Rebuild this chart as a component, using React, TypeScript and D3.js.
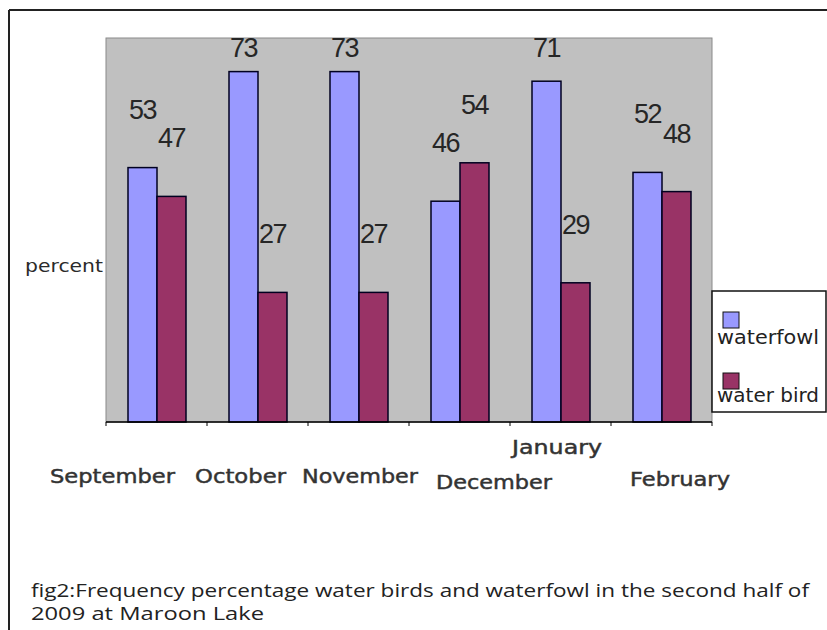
import React from "react";
import * as d3 from "d3";

const months = ["September", "October", "November", "December", "January", "February"];
const seriesNames = ["waterfowl", "water bird"];
const waterfowl = [53, 73, 73, 46, 71, 52];
const waterBird = [47, 27, 27, 54, 29, 48];
const yAxisLabel = "percent";
const captionLines = [
  "fig2:Frequency percentage water birds and waterfowl in the second half of",
  "2009 at Maroon Lake",
];

// layout (not data)
const W = 827, H = 630;
const plot = { left: 106, right: 712, top: 38, bottom: 422 };
const monthLabelLayout = [
  { dx: -44, y: 483, w: 125 },
  { dx: -17, y: 483, w: 91 },
  { dx: 1.5, y: 483, w: 116 },
  { dx: 34.5, y: 489, w: 116 },
  { dx: -3.5, y: 454, w: 90 },
  { dx: 18.5, y: 486, w: 100 },
];
const colors = ["#9999FF", "#993366"];

export default function App() {
  const x = d3.scaleBand<string>().domain(months).range([plot.left, plot.right]).padding(0);
  const xs = d3.scaleBand<string>().domain(seriesNames).range([22, 80]).padding(0);
  const y = d3.scaleLinear().domain([0, 80]).range([plot.bottom, plot.top]);
  const series = [waterfowl, waterBird];
  const bw = x.bandwidth();
  const boundaries = d3.range(months.length + 1).map((i) => plot.left + i * bw);

  return (
    <svg width={W} height={H} style={{ position: "absolute", left: 0, top: 0, background: "#fff" }}>
      <rect x={0} y={0} width={W} height={H} fill="#fff" />
      {/* outer frame */}
      <line x1={9} x2={W} y1={10} y2={10} stroke="#222" strokeWidth={2} />
      <line x1={9} x2={9} y1={10} y2={H} stroke="#222" strokeWidth={2} />
      {/* plot area */}
      <rect x={plot.left} y={plot.top} width={plot.right - plot.left} height={plot.bottom - plot.top}
        fill="#C0C0C0" stroke="#8a8a8a" strokeWidth={1} />
      {/* bars */}
      {series.map((vals, si) =>
        vals.map((v, i) => (
          <rect key={`b${si}-${i}`}
            x={(x(months[i]) as number) + (xs(seriesNames[si]) as number)}
            y={y(v)} width={xs.bandwidth()} height={plot.bottom - y(v)}
            fill={colors[si]} stroke="#000020" strokeWidth={1.5} />
        ))
      )}
      {/* value labels */}
      {series.map((vals, si) =>
        vals.map((v, i) => {
          const cx = (x(months[i]) as number) + (xs(seriesNames[si]) as number) + xs.bandwidth() / 2;
          const cy = Math.max(y(v) - 59, plot.top + 9);
          return (
            <text key={`l${si}-${i}`} x={cx} y={cy + 10} textAnchor="middle"
              fontFamily="Liberation Sans, Arial, sans-serif" fontSize={27} letterSpacing={-1.5}
              fill="#262626">{v}</text>
          );
        })
      )}
      {/* axis */}
      <line x1={plot.left} x2={plot.right} y1={plot.bottom} y2={plot.bottom} stroke="#000" strokeWidth={1.5} />
      {boundaries.map((bx, i) => (
        <line key={`t${i}`} x1={bx} x2={bx} y1={plot.bottom} y2={plot.bottom + 4} stroke="#000" strokeWidth={1} />
      ))}
      {/* month labels */}
      {months.map((m, i) => {
        const L = monthLabelLayout[i];
        const cx = (x(m) as number) + bw / 2 + L.dx;
        return (
          <text key={`m${i}`} x={cx - L.w / 2} y={L.y} textLength={L.w} lengthAdjust="spacingAndGlyphs"
            fontFamily="DejaVu Sans, Verdana, sans-serif" fontSize={19} fill="#333"
            stroke="#333" strokeWidth={0.45}>{m}</text>
        );
      })}
      {/* y label */}
      <text x={25} y={272} textLength={78} lengthAdjust="spacingAndGlyphs"
        fontFamily="DejaVu Sans, Verdana, sans-serif" fontSize={18} fill="#2a2a2a">{yAxisLabel}</text>
      {/* legend */}
      <rect x={712} y={291} width={114} height={121} fill="#fff" stroke="#111" strokeWidth={1.5} />
      {seriesNames.map((s, i) => (
        <g key={`lg${i}`}>
          <rect x={723} y={312 + i * 61} width={16} height={16} fill={colors[i]} stroke="#111" strokeWidth={1} />
          <text x={717} y={344 + i * 58} textLength={102} lengthAdjust="spacingAndGlyphs"
            fontFamily="DejaVu Sans, Verdana, sans-serif" fontSize={19} fill="#222">{s}</text>
        </g>
      ))}
      {/* caption */}
      {captionLines.map((c, i) => (
        <text key={`c${i}`} x={31} y={597 + i * 23} textLength={i === 0 ? 778 : 233} lengthAdjust="spacingAndGlyphs"
          fontFamily="Open Sans, sans-serif" fontSize={18} fill="#222">{c}</text>
      ))}
    </svg>
  );
}
